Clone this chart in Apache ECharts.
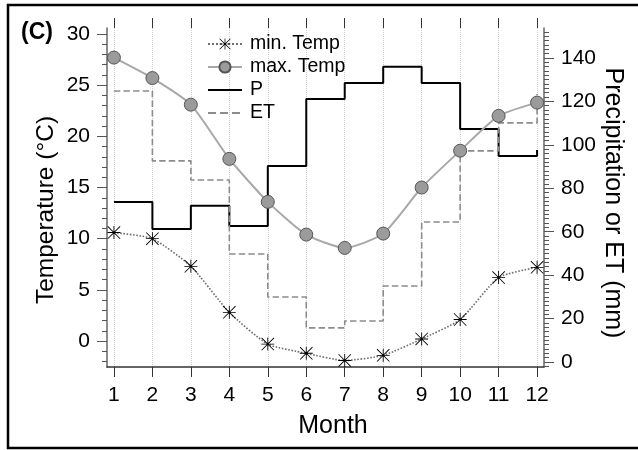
<!DOCTYPE html>
<html>
<head>
<meta charset="utf-8">
<script src="https://cdn.jsdelivr.net/npm/echarts@6/dist/echarts.min.js"></script>
<style>
  html, body { margin: 0; padding: 0; background: #fff; }
  #chart { width: 638px; height: 450px; }
</style>
</head>
<body>
<div id="chart"></div>
<script>
// monthly climate values
const months = [1, 2, 3, 4, 5, 6, 7, 8, 9, 10, 11, 12]
const minTemp = [10.6, 10.0, 7.3, 2.8, -0.3, -1.2, -1.9, -1.4, 0.2, 2.1, 6.2, 7.2]
const maxTemp = [27.7, 25.7, 23.1, 17.8, 13.6, 10.4, 9.1, 10.5, 15.0, 18.6, 22.0, 23.3]
const precip = [73.7, 61.3, 71.9, 62.6, 90.3, 121.1, 128.5, 135.9, 128.5, 107.3, 94.9, 97.6]
const et = [124.8, 92.6, 83.8, 49.7, 29.9, 15.7, 18.9, 35.0, 64.5, 97.2, 110.1, 123.4]

// tick labels
const tempTicks = [0, 5, 10, 15, 20, 25, 30]
const tempMinor = [-2, -1, 0, 1, 2, 3, 4, 5, 6, 7, 8, 9, 10, 11, 12, 13, 14, 15, 16, 17, 18, 19, 20, 21, 22, 23, 24, 25, 26, 27, 28, 29, 30]
const mmTicks = [0, 20, 40, 60, 80, 100, 120, 140]
const mmMinor = [-2, 0, 2, 4, 6, 8, 10, 12, 14, 16, 18, 20, 22, 24, 26, 28, 30, 32, 34, 36, 38, 40, 42, 44, 46, 48, 50, 52, 54, 56, 58, 60, 62, 64, 66, 68, 70, 72, 74, 76, 78, 80, 82, 84, 86, 88, 90, 92, 94, 96, 98, 100, 102, 104, 106, 108, 110, 112, 114, 116, 118, 120, 122, 124, 126, 128, 130, 132, 134, 136, 138, 140, 142, 144, 146, 148, 150, 152]

const font = 'Liberation Sans, Arial, sans-serif'
const pair = (arr) => months.map((m, i) => [m, arr[i]])

// pch 8 style asterisk (+ and x)
const asterisk = 'path://M11.2,0H12.8V24H11.2Z M0,11.2H24V12.8H0Z M1.1,0L24,22.9L22.9,24L0,1.1Z M22.9,0L24,1.1L1.1,24L0,22.9Z'
// no marker in legend for the step lines
const noMark = { color: 'rgba(0,0,0,0)', borderWidth: 0, opacity: 0 }

const chart = echarts.init(document.getElementById('chart'))

const option = {
	animation: false,
	backgroundColor: '#fff',
	grid: {
		left: 107,
		right: 94,
		top: 28,
		bottom: 83,
		outerBoundsMode: 'none'
	},
	legend: {
		data: [
			'min. Temp',
			'max. Temp',
			{ name: 'P', itemStyle: noMark },
			{ name: 'ET', itemStyle: noMark }
		],
		orient: 'vertical',
		left: 207,
		top: 34,
		padding: 0,
		itemWidth: 34,
		itemHeight: 14,
		itemGap: 3,
		textStyle: {
			fontFamily: font,
			fontSize: 19.5,
			color: '#000',
			padding: [0, 0, 0, 3]
		}
	},
	xAxis: [
		{
			type: 'value',
			position: 'bottom',
			min: 0.82,
			max: 12.18,
			axisLine: { onZero: false, lineStyle: { color: '#333', width: 1.5 } },
			axisTick: { customValues: months, length: 10, lineStyle: { color: '#333' } },
			axisLabel: { customValues: months, fontFamily: font, fontSize: 21, color: '#000', margin: 18 },
			splitLine: { show: true, lineStyle: { type: 'dotted', color: '#cfcfcf', width: 1 } }
		},
		{
			type: 'value',
			position: 'top',
			min: 0.82,
			max: 12.18,
			axisLine: { show: false, onZero: false },
			axisTick: { show: true, customValues: months, length: 10, lineStyle: { color: '#333' } },
			axisLabel: { show: false },
			splitLine: { show: false }
		}
	],
	yAxis: [
		{
			type: 'value',
			position: 'left',
			min: -2.54,
			max: 30.59,
			axisLine: { show: true, onZero: false, lineStyle: { color: '#666', width: 1.5 } },
			axisTick: { show: true, customValues: tempTicks, length: 10, lineStyle: { color: '#555' } },
			axisLabel: { customValues: tempTicks, fontFamily: font, fontSize: 21, color: '#000', margin: 17 },
			splitLine: { show: false }
		},
		{
			type: 'value',
			position: 'left',
			min: -2.54,
			max: 30.59,
			axisLine: { show: false, onZero: false },
			axisTick: { show: true, customValues: tempMinor, length: 5, lineStyle: { color: '#555' } },
			axisLabel: { show: false },
			splitLine: { show: false }
		},
		{
			type: 'value',
			position: 'right',
			min: -2.3,
			max: 153.8,
			axisLine: { show: true, onZero: false, lineStyle: { color: '#666', width: 1.5 } },
			axisTick: { show: true, customValues: mmTicks, length: 10, lineStyle: { color: '#555' } },
			axisLabel: { customValues: mmTicks, fontFamily: font, fontSize: 21, color: '#000', margin: 17 },
			splitLine: { show: false }
		},
		{
			type: 'value',
			position: 'right',
			min: -2.3,
			max: 153.8,
			axisLine: { show: false, onZero: false },
			axisTick: { show: true, customValues: mmMinor, length: 5, lineStyle: { color: '#555' } },
			axisLabel: { show: false },
			splitLine: { show: false }
		}
	],
	series: [
		{
			name: 'min. Temp',
			type: 'line',
			xAxisIndex: 0,
			yAxisIndex: 0,
			data: pair(minTemp),
			smooth: 0.2,
			symbol: asterisk,
			symbolSize: 13,
			itemStyle: { color: '#000' },
			lineStyle: { color: '#6e6e6e', type: 'dotted', width: 1.6 },
			z: 5
		},
		{
			name: 'max. Temp',
			type: 'line',
			xAxisIndex: 0,
			yAxisIndex: 0,
			data: pair(maxTemp),
			smooth: 0.2,
			symbol: 'circle',
			symbolSize: 13,
			itemStyle: { color: '#9b9b9b', borderColor: '#555', borderWidth: 1 },
			lineStyle: { color: '#a8a8a8', width: 2 },
			z: 5
		},
		{
			name: 'P',
			type: 'line',
			xAxisIndex: 0,
			yAxisIndex: 2,
			data: pair(precip),
			step: 'end',
			symbol: 'none',
			itemStyle: { color: '#000' },
			lineStyle: { color: '#000', width: 2 },
			z: 3
		},
		{
			name: 'ET',
			type: 'line',
			xAxisIndex: 0,
			yAxisIndex: 2,
			data: pair(et),
			step: 'end',
			symbol: 'none',
			itemStyle: { color: '#8c8c8c' },
			lineStyle: { color: '#8c8c8c', type: 'dashed', width: 1.6 },
			z: 3
		}
	],
	graphic: [
		{
			type: 'rect',
			shape: { x: 8, y: 5, width: 700, height: 443 },
			style: { fill: 'none', stroke: '#000', lineWidth: 2.5 },
			silent: true
		},
		{
			type: 'text',
			x: 21,
			y: 33,
			style: { text: '(C)', fontFamily: font, fontSize: 23, fontWeight: 'bold', fill: '#000', textVerticalAlign: 'middle' }
		},
		{
			type: 'text',
			x: 46,
			y: 210,
			rotation: Math.PI / 2,
			style: { text: 'Temperature (°C)', fontFamily: font, fontSize: 24.5, fill: '#000', textAlign: 'center', textVerticalAlign: 'middle' }
		},
		{
			type: 'text',
			x: 613,
			y: 203,
			rotation: -Math.PI / 2,
			style: { text: 'Precipitation or ET (mm)', fontFamily: font, fontSize: 25, fill: '#000', textAlign: 'center', textVerticalAlign: 'middle' }
		},
		{
			type: 'text',
			x: 333,
			y: 426,
			style: { text: 'Month', fontFamily: font, fontSize: 25, fill: '#000', textAlign: 'center', textVerticalAlign: 'middle' }
		}
	]
}

chart.setOption(option, true)
</script>
</body>
</html>
